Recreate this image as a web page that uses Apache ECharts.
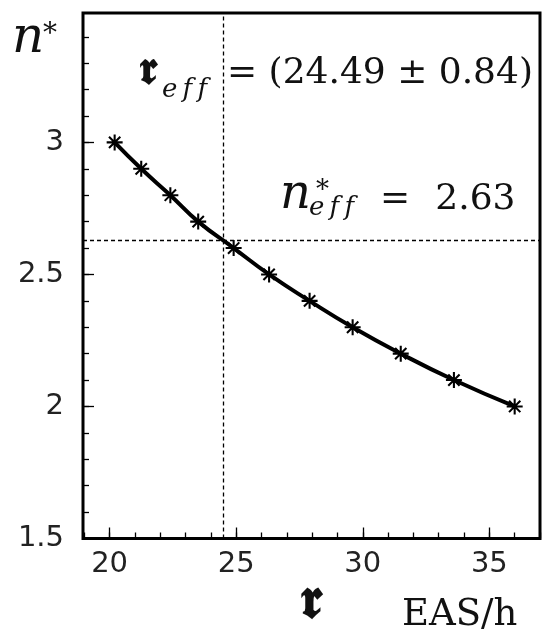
<!DOCTYPE html>
<html><head><meta charset="utf-8">
<script src="https://cdn.jsdelivr.net/npm/echarts@6/dist/echarts.min.js"></script>
<style>html,body{margin:0;padding:0;background:#fff}#c{width:550px;height:636px}</style>
</head><body><div id="c"></div>
<script>
// ---- data ----
const rValues = [20.2, 21.25, 22.4, 23.5, 24.9, 26.3, 27.9, 29.6, 31.5, 33.6, 36.0];
const nValues = [3.0, 2.9, 2.8, 2.7, 2.6, 2.5, 2.4, 2.3, 2.2, 2.1, 2.0];
const rEff = 24.49;
const nEff = 2.63;
const xMajorTicks = [20, 25, 30, 35];
const xMinorTicks = [19, 20, 21, 22, 23, 24, 25, 26, 27, 28, 29, 30, 31, 32, 33, 34, 35, 36, 37];
const yMajorTicks = [1.5, 2, 2.5, 3];
const yMinorTicks = [1.6, 1.7, 1.8, 1.9, 2.0, 2.1, 2.2, 2.3, 2.4, 2.5, 2.6, 2.7, 2.8, 2.9, 3.0, 3.1, 3.2, 3.3, 3.4];
const xRange = [18.95, 37];
const yRange = [1.5, 3.49];
// ---- text ----
const yTitle = 'n';
const starText = '*';
const effText = 'e\u2009f\u2009f';
const rEffText = '= (24.49 \u00b1 0.84)';
const nEffText = '=\u2002\u20092.63';
const frakR = '\u{1D597}';
const xUnit = 'EAS/h';

const asterisk = 'path://M8.7,0 L11.3,0 L11.3,20 L8.7,20 Z M0,8.7 L20,8.7 L20,11.3 L0,11.3 Z ' +
  'M3.85,2.01 L17.99,16.15 L16.15,17.99 L2.01,3.85 Z M17.99,3.85 L3.85,17.99 L2.01,16.15 L16.15,2.01 Z';

const chart = echarts.init(document.getElementById('c'), null, {renderer: 'canvas'});
const serif = "'DejaVu Serif', serif";
function txt(x, y, text, size, opts) {
  return Object.assign({type: 'text', x: x, y: y, silent: true, z: 100,
    style: Object.assign({text: text, fontFamily: serif, fontSize: size, fill: '#111',
      align: 'left', verticalAlign: 'middle'}, (opts || {}))});
}
const tickStyle = {color: '#000', width: 1.3};
chart.setOption({
  animation: false,
  backgroundColor: '#fff',
  grid: {left: 83, right: 10, top: 13, bottom: 97.5, show: true, borderColor: '#000', borderWidth: 3,
         containLabel: false, outerBoundsMode: 'none'},
  xAxis: [
    {type: 'value', min: xRange[0], max: xRange[1], position: 'bottom',
     axisLine: {show: false}, splitLine: {show: false},
     axisTick: {show: true, inside: true, length: 11, lineStyle: tickStyle, customValues: xMajorTicks},
     axisLabel: {show: true, customValues: xMajorTicks, fontFamily: "'DejaVu Sans'", fontSize: 29, color: '#222', margin: 11}},
    {type: 'value', min: xRange[0], max: xRange[1], position: 'bottom',
     axisLine: {show: false}, splitLine: {show: false},
     axisTick: {show: true, inside: true, length: 6, lineStyle: tickStyle, customValues: xMinorTicks},
     axisLabel: {show: false}}
  ],
  yAxis: [
    {type: 'value', min: yRange[0], max: yRange[1], position: 'left',
     axisLine: {show: false}, splitLine: {show: false},
     axisTick: {show: true, inside: true, length: 11, lineStyle: tickStyle, customValues: yMajorTicks},
     axisLabel: {show: true, customValues: yMajorTicks, fontFamily: "'DejaVu Sans'", fontSize: 29, color: '#222', margin: 19}},
    {type: 'value', min: yRange[0], max: yRange[1], position: 'left',
     axisLine: {show: false}, splitLine: {show: false},
     axisTick: {show: true, inside: true, length: 6, lineStyle: tickStyle, customValues: yMinorTicks},
     axisLabel: {show: false}}
  ],
  series: [{
    type: 'line', xAxisIndex: 0, yAxisIndex: 0,
    data: rValues.map((r, i) => [r, nValues[i]]),
    smooth: true,
    lineStyle: {color: '#000', width: 4},
    symbol: asterisk, symbolSize: 16,
    itemStyle: {color: '#000'},
    markLine: {silent: true, symbol: 'none', label: {show: false},
      lineStyle: {color: '#000', type: [4, 3], width: 1.3},
      data: [{xAxis: rEff}, {yAxis: nEff}]}
  }],
  graphic: [
    txt(12, 39, yTitle, 50, {fontStyle: 'italic'}),
    txt(43, 35, starText, 28),
    txt(139, 72, frakR, 46, {fontWeight: 'bold'}),
    txt(162, 90, effText, 26, {fontStyle: 'italic'}),
    txt(227, 74, rEffText, 36),
    txt(280, 196, yTitle, 48, {fontStyle: 'italic'}),
    txt(316, 191, starText, 26),
    txt(309, 208, effText, 26, {fontStyle: 'italic'}),
    txt(380, 200, nEffText, 36),
    txt(300, 603, frakR, 56, {fontWeight: 'bold'}),
    txt(402, 615, xUnit, 37)
  ]
});
</script></body></html>
